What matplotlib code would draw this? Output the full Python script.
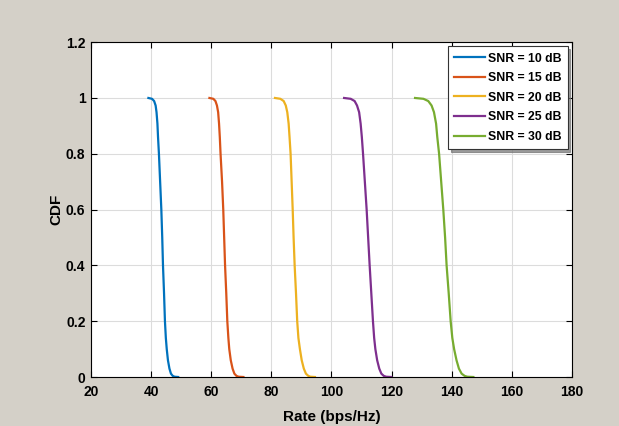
import matplotlib
matplotlib.use("Agg")
import matplotlib.pyplot as plt

cdf = [1.0, 0.997, 0.989, 0.973, 0.949, 0.908, 0.86, 0.8, 0.7, 0.6, 0.5,
       0.4, 0.3, 0.2, 0.14, 0.1, 0.06, 0.03, 0.012, 0.004, 0.001, 0.0]

# Rate (bps/Hz) for each SNR at those levels
rate_10 = [39.1, 40.3, 41.0, 41.5, 41.8, 42.1, 42.3, 42.6, 43.0, 43.4, 43.7,
           43.95, 44.3, 44.6, 44.9, 45.2, 45.6, 46.1, 46.6, 47.2, 47.8, 49.0]
rate_15 = [59.4, 60.7, 61.4, 61.9, 62.3, 62.6, 62.85, 63.1, 63.6, 64.0, 64.3,
           64.6, 65.0, 65.35, 65.7, 66.0, 66.5, 67.1, 67.7, 68.4, 69.1, 70.7]
rate_20 = [81.2, 83.0, 84.1, 84.8, 85.3, 85.75, 86.05, 86.4, 86.75, 87.1, 87.4,
           87.75, 88.2, 88.6, 89.0, 89.5, 90.1, 90.8, 91.5, 92.3, 93.0, 94.5]
rate_25 = [104.2, 106.4, 107.7, 108.5, 109.2, 109.7, 110.1, 110.5, 111.1, 111.7, 112.2,
           112.7, 113.25, 113.8, 114.2, 114.6, 115.2, 115.9, 116.6, 117.4, 118.2, 119.9]
rate_30 = [127.8, 130.6, 132.2, 133.3, 134.1, 134.8, 135.2, 135.8, 136.5, 137.2, 137.8,
           138.3, 139.0, 139.65, 140.2, 140.8, 141.6, 142.4, 143.3, 144.3, 145.2, 147.2]

labels = ['SNR = 10 dB', 'SNR = 15 dB', 'SNR = 20 dB', 'SNR = 25 dB', 'SNR = 30 dB']
colors = ['#0072BD', '#D95319', '#EDB120', '#7E2F8E', '#77AC30']

plt.rcParams['font.family'] = ['Liberation Sans', 'DejaVu Sans']
plt.rcParams['font.weight'] = 'bold'

fig = plt.figure(figsize=(6.19, 4.26), dpi=100, facecolor='#d4d0c8')
ax = fig.add_axes([0.147, 0.115, 0.777, 0.786])
ax.set_facecolor('white')

for rates, lab, col in zip([rate_10, rate_15, rate_20, rate_25, rate_30], labels, colors):
    ax.plot(rates, cdf, color=col, lw=1.6, label=lab, solid_joinstyle='round')

ax.set_xlim(20, 180)
ax.set_ylim(0, 1.2)
ax.set_xticks(range(20, 181, 20))
ax.set_yticks([0, 0.2, 0.4, 0.6, 0.8, 1.0, 1.2])
ax.set_yticklabels(['0', '0.2', '0.4', '0.6', '0.8', '1', '1.2'])
ax.grid(True, color='#dcdcdc', lw=0.8)
ax.set_axisbelow(True)
ax.tick_params(direction='in', top=True, right=True, length=4, width=0.8,
               labelsize=10)
ax.tick_params(axis='x', pad=5.5)
ax.tick_params(axis='y', pad=4)
for lab in ax.get_xticklabels() + ax.get_yticklabels():
    lab.set_fontweight('bold')
for sp in ax.spines.values():
    sp.set_color('black')
    sp.set_linewidth(0.8)

ax.set_xlabel('Rate (bps/Hz)', fontsize=11, fontweight='bold', labelpad=8)
ax.set_ylabel('CDF', fontsize=11, fontweight='bold', labelpad=2)

leg = ax.legend(loc='upper right', fontsize=8.8, frameon=True, fancybox=False,
                shadow={'color': '0.45', 'alpha': 0.7}, borderaxespad=0.35,
                handlelength=2.5, handletextpad=0.25, labelspacing=0.62,
                borderpad=0.5)
leg.get_frame().set_edgecolor('#333333')
leg.get_frame().set_linewidth(0.8)
for t in leg.get_texts():
    t.set_fontweight('bold')

fig.savefig('out.png', dpi=100, facecolor=fig.get_facecolor())
